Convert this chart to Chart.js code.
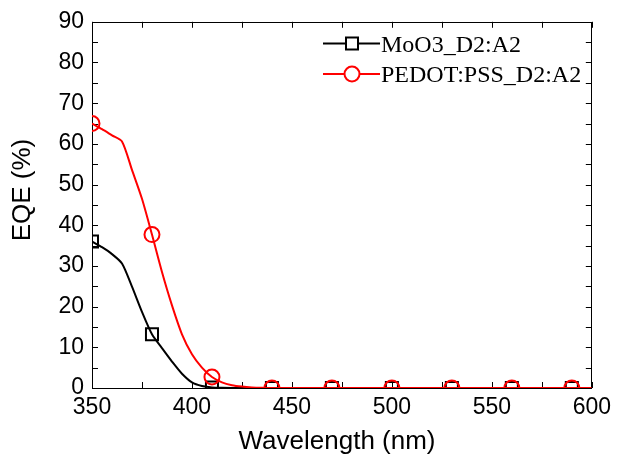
<!DOCTYPE html>
<html>
<head>
<meta charset="utf-8">
<script src="https://cdn.jsdelivr.net/npm/chart.js@4/dist/chart.umd.min.js"></script>
<style>
html,body{margin:0;padding:0;background:#fff;}
#wrap{width:617px;height:459px;position:relative;}
</style>
</head>
<body>
<div id="wrap"><canvas id="c" width="617" height="459"></canvas></div>
<script>
// ---- data ----
const wavelengths = [350,355,360,365,370,375,380,385,390,395,400,405,410,415,420,425,430,435,440,445,450,455,460,465,470,475,480,485,490,495,500,505,510,515,520,525,530,535,540,545,550,555,560,565,570,575,580,585,590,595,600];
const moo3EQE = [36,34.6,32.9,30.6,24.9,18.7,13.2,9.8,6.5,3.5,1.4,0.5,0.15,0.04,0,0,0,0,0,0,0,0,0,0,0,0,0,0,0,0,0,0,0,0,0,0,0,0,0,0,0,0,0,0,0,0,0,0,0,0,0];
const pedotEQE = [65,63.6,62.1,60.6,53.6,46.5,37.7,28.5,20.3,13.2,8.3,5.0,2.7,1.4,0.7,0.35,0.15,0.05,0,0,0,0,0,0,0,0,0,0,0,0,0,0,0,0,0,0,0,0,0,0,0,0,0,0,0,0,0,0,0,0,0];
const markerWavelengths = [350,380,410,440,470,500,530,560,590];
const seriesNames = ['MoO3_D2:A2','PEDOT:PSS_D2:A2'];
const xTicks = [350,400,450,500,550,600];
const yTicks = [0,10,20,30,40,50,60,70,80,90];
const xTitle = 'Wavelength (nm)';
const yTitle = 'EQE (%)';

const toPts = (vals) => wavelengths.map((w,i)=>({x:w,y:vals[i]}));
const markerRadius = (r) => (ctx) => (ctx.raw && markerWavelengths.includes(ctx.raw.x)) ? r : 0;

const framePlugin = {
  id:'frame',
  beforeDatasetsDraw(chart){
    const {ctx, chartArea:a, scales:{x,y}} = chart;
    ctx.save();
    ctx.strokeStyle = '#000';
    ctx.lineWidth = 1;
    ctx.strokeRect(Math.round(a.left)+0.5, Math.round(a.top)+0.5, Math.round(a.right-a.left)-1, Math.round(a.bottom-a.top));
    ctx.beginPath();
    for (let v=350; v<=600; v+=25){
      const px = Math.round(x.getPixelForValue(v))+0.5;
      const len = 6;
      ctx.moveTo(px, a.bottom); ctx.lineTo(px, a.bottom-len);
      ctx.moveTo(px, a.top); ctx.lineTo(px, a.top+len);
    }
    for (let v=0; v<=90; v+=5){
      const py = Math.round(y.getPixelForValue(v))+0.5;
      const len = 6;
      ctx.moveTo(a.left, py); ctx.lineTo(a.left+len, py);
      ctx.moveTo(a.right, py); ctx.lineTo(a.right-len, py);
    }
    ctx.stroke();
    ctx.restore();
    // clip datasets to the plot box
    ctx.save();
    ctx.beginPath();
    ctx.rect(a.left, a.top, a.right-a.left, a.bottom-a.top+1);
    ctx.clip();
  },
  afterDatasetsDraw(chart){
    chart.ctx.restore();
  },
  afterDraw(chart){
    const {ctx} = chart;
    ctx.save();
    ctx.fillStyle = '#000';
    ctx.font = '26px "Liberation Sans", Arial, sans-serif';
    ctx.textAlign = 'center';
    ctx.textBaseline = 'middle';
    ctx.fillText(xTitle, 337, 442);
    ctx.translate(23, 190);
    ctx.rotate(-Math.PI/2);
    ctx.fillText(yTitle, 0, 0);
    ctx.restore();

    ctx.save();
    const rows = [
      {name:seriesNames[0], color:'#000', style:'rect', y:43.5, base:52},
      {name:seriesNames[1], color:'#ff0000', style:'circle', y:74, base:82}
    ];
    rows.forEach(r=>{
      ctx.strokeStyle = r.color;
      ctx.lineWidth = 2;
      ctx.beginPath();
      ctx.moveTo(323, r.y); ctx.lineTo(380, r.y);
      ctx.stroke();
      ctx.fillStyle = '#fff';
      ctx.beginPath();
      if (r.style==='rect'){
        ctx.rect(352-6, r.y-6, 12, 12);
      } else {
        ctx.arc(352, r.y, 7.5, 0, Math.PI*2);
      }
      ctx.fill();
      ctx.stroke();
      ctx.fillStyle = '#000';
      ctx.font = '24px "Liberation Serif", "Times New Roman", serif';
      ctx.textAlign = 'left';
      ctx.textBaseline = 'alphabetic';
      ctx.fillText(r.name, 381, r.base);
    });
    ctx.restore();
  }
};

new Chart(document.getElementById('c'), {
  type:'line',
  data:{
    datasets:[
      {
        label:seriesNames[0],
        data:toPts(moo3EQE),
        borderColor:'#000',
        backgroundColor:'rgba(0,0,0,0)',
        borderWidth:2,
        pointStyle:'rect',
        pointRadius:markerRadius(8.5),
        pointBorderWidth:2,
        pointBorderColor:'#000',
        pointBackgroundColor:'rgba(0,0,0,0)',
        tension:0.25,
        order:2
      },
      {
        label:seriesNames[1],
        data:toPts(pedotEQE),
        borderColor:'#ff0000',
        backgroundColor:'rgba(0,0,0,0)',
        borderWidth:2,
        pointStyle:'circle',
        pointRadius:markerRadius(7.5),
        pointBorderWidth:2,
        pointBorderColor:'#ff0000',
        pointBackgroundColor:'rgba(0,0,0,0)',
        tension:0.25,
        order:1
      }
    ]
  },
  options:{
    responsive:false,
    animation:false,
    events:[],
    layout:{padding:{left:0,right:21,top:18,bottom:0}},
    plugins:{legend:{display:false}, tooltip:{enabled:false}},
    scales:{
      x:{
        type:'linear', min:350, max:600,
        afterBuildTicks:(s)=>{ s.ticks = xTicks.map(v=>({value:v})); },
        afterFit:(s)=>{ s.height = 71; },
        grid:{display:false, drawTicks:false},
        border:{display:false},
        ticks:{padding:6, color:'#000', font:{family:'"Liberation Sans", Arial, sans-serif', size:23}, maxRotation:0, autoSkip:false}
      },
      y:{
        type:'linear', min:0, max:90,
        afterBuildTicks:(s)=>{ s.ticks = yTicks.map(v=>({value:v})); },
        afterFit:(s)=>{ s.width = 92; },
        grid:{display:false, drawTicks:false},
        border:{display:false},
        ticks:{padding:8, color:'#000', font:{family:'"Liberation Sans", Arial, sans-serif', size:23}, autoSkip:false}
      }
    }
  },
  plugins:[framePlugin]
});
</script>
</body>
</html>
